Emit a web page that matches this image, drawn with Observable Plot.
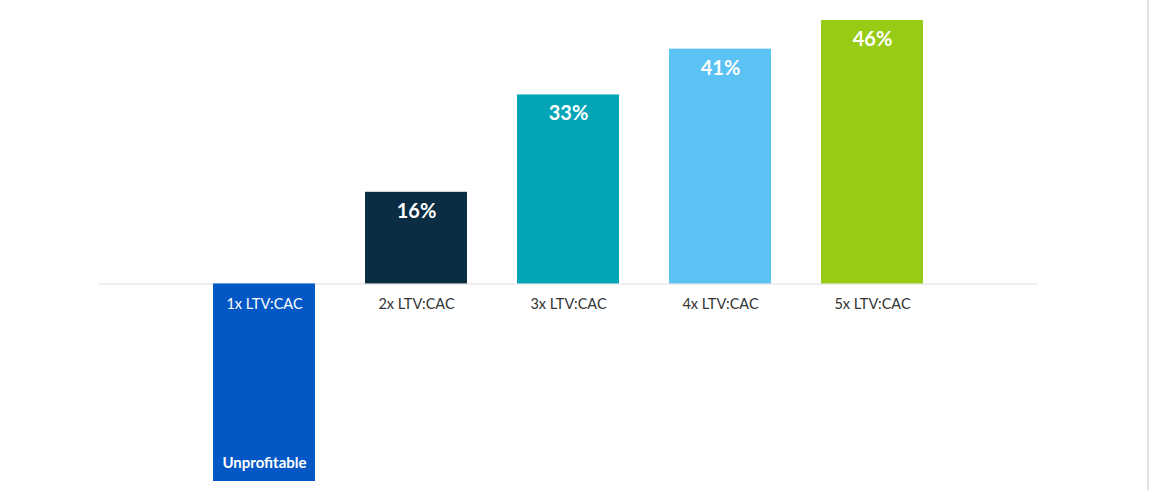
<!DOCTYPE html>
<html>
<head>
<meta charset="utf-8">
<script src="https://cdn.jsdelivr.net/npm/d3@7"></script>
<script src="https://cdn.jsdelivr.net/npm/@observablehq/plot@0.6"></script>
<style>
  html, body { margin: 0; padding: 0; background: #ffffff; }
  #wrap { position: relative; width: 1150px; height: 500px; }
  #edge { position: absolute; left: 1147px; top: 0; width: 2px; height: 490px; background: #e2e2e2; }
</style>
</head>
<body>
<div id="wrap"><div id="edge"></div></div>
<script>
const categories = ["1x LTV:CAC", "2x LTV:CAC", "3x LTV:CAC", "4x LTV:CAC", "5x LTV:CAC"];
const values = [-34.5, 16, 33, 41, 46];
const valueLabels = ["Unprofitable", "16%", "33%", "41%", "46%"];
const colors = ["#0458C6", "#0B2D44", "#02A5B5", "#5BC2F4", "#97CB15"];

const data = categories.map((c, i) => ({ cat: c, value: values[i], label: valueLabels[i], color: colors[i] }));
const pos = data.filter(d => d.value >= 0);
const neg = data.filter(d => d.value < 0);

const chart = Plot.plot({
  width: 1150,
  height: 500,
  marginLeft: 99,
  marginRight: 113,
  marginTop: 20,
  marginBottom: 19,
  style: { fontFamily: "Lato, 'Open Sans', sans-serif", background: "transparent" },
  x: { domain: categories, paddingInner: 0.329, paddingOuter: 0.75, axis: null },
  y: { domain: [-34.5, 46], axis: null },
  marks: [
    Plot.ruleY([0], { stroke: "#e8e8e8", strokeWidth: 1.5 }),
    Plot.barY(data, { x: "cat", y: "value", fill: "color" }),
    Plot.text(pos, { x: "cat", y: "value", text: "label", dy: 19, fill: "white", fontSize: 20, fontWeight: "bold" }),
    Plot.text(neg, { x: "cat", y: "value", text: "label", dy: -18, fill: "white", fontSize: 15, fontWeight: "bold" }),
    Plot.text(pos, { x: "cat", y: 0, text: "cat", dy: 20, fill: "#333333", fontSize: 14.5 }),
    Plot.text(neg, { x: "cat", y: 0, text: "cat", dy: 20, fill: "white", fontSize: 14.5 })
  ]
});
document.getElementById("wrap").appendChild(chart);
</script>
</body>
</html>
